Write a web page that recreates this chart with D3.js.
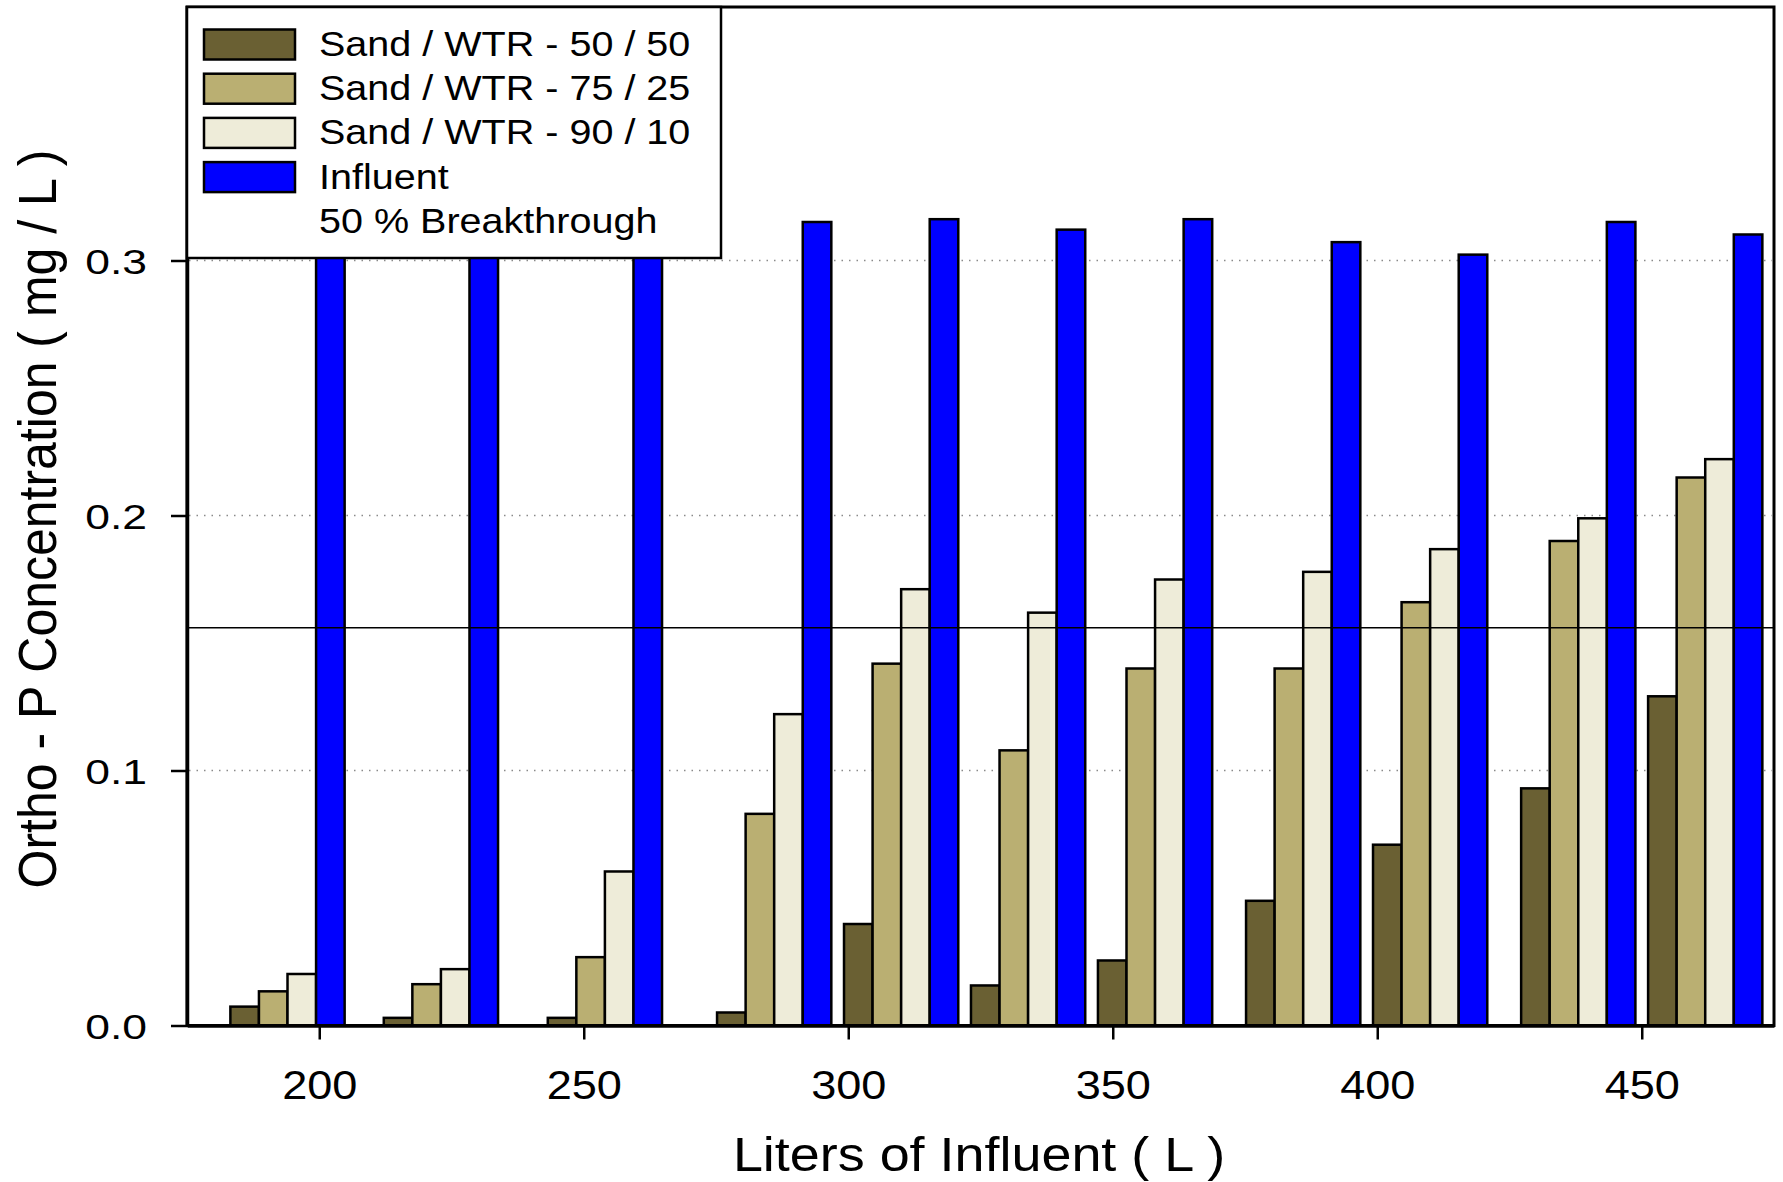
<!DOCTYPE html>
<html>
<head>
<meta charset="utf-8">
<script src="https://cdn.jsdelivr.net/npm/d3@7"></script>
<style>
  html, body { margin: 0; padding: 0; background: #fff; }
  svg { display: block; }
  text { font-family: "Liberation Sans", Arial, Helvetica, sans-serif; fill: #000; }
</style>
</head>
<body>
<svg id="chart" width="1783" height="1182"></svg>
<script>
// Cumulative volume of influent passed through the columns (L)
const volumes = [194, 223, 254, 286, 310, 334, 358, 386, 410, 438, 462];

// Effluent ortho-P concentration (mg/L) for each sand / WTR blend
const mix5050 = [0.0074, 0.003, 0.003, 0.0051, 0.0398, 0.0157, 0.0255, 0.0489, 0.0709, 0.093, 0.1291];
const mix7525 = [0.0134, 0.0162, 0.0268, 0.083, 0.1419, 0.1079, 0.140, 0.140, 0.166, 0.190, 0.2149];
const mix9010 = [0.0202, 0.0221, 0.0604, 0.1221, 0.1711, 0.1619, 0.1749, 0.1779, 0.1868, 0.1989, 0.2221];
const influent = [0.310, 0.310, 0.310, 0.3151, 0.3162, 0.3121, 0.3162, 0.3072, 0.3023, 0.3151, 0.3102];

// Half of the mean influent concentration
const breakthrough = 0.156;

const seriesNames = ["Sand / WTR - 50 / 50", "Sand / WTR - 75 / 25", "Sand / WTR - 90 / 10", "Influent"];
const seriesColors = ["#6a6033", "#baaf72", "#eeecd9", "#0000ff"];
const breakthroughLabel = "50 % Breakthrough";

const xTicks = [200, 250, 300, 350, 400, 450];
const yTicks = [0.0, 0.1, 0.2, 0.3];
const gridValues = [0.1, 0.2, 0.3];

const xTitle = "Liters of Influent ( L )";
const yTitle = "Ortho - P Concentration ( mg / L )";

// ---- layout ----
const svg = d3.select("#chart");
const plotLeft = 187, plotRight = 1774, plotTop = 5.5, plotBottom = 1025.5;
const x = d3.scaleLinear().domain([175, 475]).range([plotLeft, plotRight]);
const y = d3.scaleLinear().domain([0, 0.4]).range([plotBottom, plotTop]);
const barW = 5.4; // width of one bar in litres

const series = [mix5050, mix7525, mix9010, influent];

// dotted grid lines
svg.append("g").selectAll("line").data(gridValues).join("line")
  .attr("x1", plotLeft + 2).attr("x2", plotRight - 2)
  .attr("y1", d => y(d)).attr("y2", d => y(d))
  .attr("stroke", "#8a8a8a").attr("stroke-width", 1.5)
  .attr("stroke-dasharray", "1.5,6");

// grouped bars
const bars = svg.append("g");
series.forEach((vals, si) => {
  bars.append("g").selectAll("rect").data(vals).join("rect")
    .attr("x", (d, i) => x(volumes[i] + (si - 2) * barW))
    .attr("width", (d, i) => x(volumes[i] + (si - 1) * barW) - x(volumes[i] + (si - 2) * barW))
    .attr("y", d => y(d))
    .attr("height", d => y(0) - y(d))
    .attr("fill", seriesColors[si])
    .attr("stroke", "#000").attr("stroke-width", 2.5);
});

// 50 % breakthrough reference line
svg.append("line")
  .attr("x1", x(175)).attr("x2", x(475))
  .attr("y1", y(breakthrough)).attr("y2", y(breakthrough))
  .attr("stroke", "#000").attr("stroke-width", 1.5);

// frame
svg.append("rect")
  .attr("x", plotLeft).attr("y", plotTop + 1.5)
  .attr("width", plotRight - plotLeft).attr("height", plotBottom - plotTop - 1.5)
  .attr("fill", "none").attr("stroke", "#000").attr("stroke-width", 3);

// x axis
const gx = svg.append("g").attr("transform", `translate(0,${plotBottom})`)
  .call(d3.axisBottom(x).tickValues(xTicks).tickSize(14).tickSizeOuter(0).tickFormat(d3.format("d")));
gx.attr("font-family", null);
gx.select(".domain").attr("stroke-width", 3.5);
gx.selectAll(".tick line").attr("stroke-width", 2.5);
gx.selectAll(".tick text")
  .attr("y", null).attr("dy", null)
  .attr("transform", `translate(0,${1099 - plotBottom}) scale(1.1,1)`)
  .attr("font-size", 41).attr("fill", "#000");

// y axis
const gy = svg.append("g").attr("transform", `translate(${plotLeft},0)`)
  .call(d3.axisLeft(y).tickValues(yTicks).tickSize(16).tickSizeOuter(0).tickFormat(d3.format(".1f")));
gy.attr("font-family", null);
gy.select(".domain").attr("stroke-width", 3.5);
gy.selectAll(".tick line").attr("stroke-width", 2.5);
gy.selectAll(".tick text")
  .attr("x", null).attr("dy", null)
  .attr("text-anchor", "end")
  .attr("transform", "translate(-40,12.5) scale(1.27,1)")
  .attr("font-size", 35).attr("fill", "#000");

// axis titles
svg.append("text")
  .attr("transform", "translate(979,1171) scale(1.1,1)")
  .attr("text-anchor", "middle").attr("font-size", 49)
  .text(xTitle);
svg.append("text")
  .attr("transform", "translate(56,519) scale(1.08,1) rotate(-90)")
  .attr("text-anchor", "middle").attr("font-size", 50)
  .text(yTitle);

// legend
const lg = svg.append("g");
lg.append("rect")
  .attr("x", 187).attr("y", 7).attr("width", 534).attr("height", 251)
  .attr("fill", "#fff").attr("stroke", "#000").attr("stroke-width", 2.5);
const rowH = 44.2, row0 = 29.5;
seriesNames.forEach((name, i) => {
  lg.append("rect")
    .attr("x", 204).attr("y", row0 + i * rowH).attr("width", 91).attr("height", 30)
    .attr("fill", seriesColors[i]).attr("stroke", "#000").attr("stroke-width", 2.5);
});
seriesNames.concat([breakthroughLabel]).forEach((name, i) => {
  lg.append("text")
    .attr("transform", `translate(319,${row0 + i * rowH + 26.5}) scale(1.13,1)`)
    .attr("font-size", 35)
    .text(name);
});
</script>
</body>
</html>
